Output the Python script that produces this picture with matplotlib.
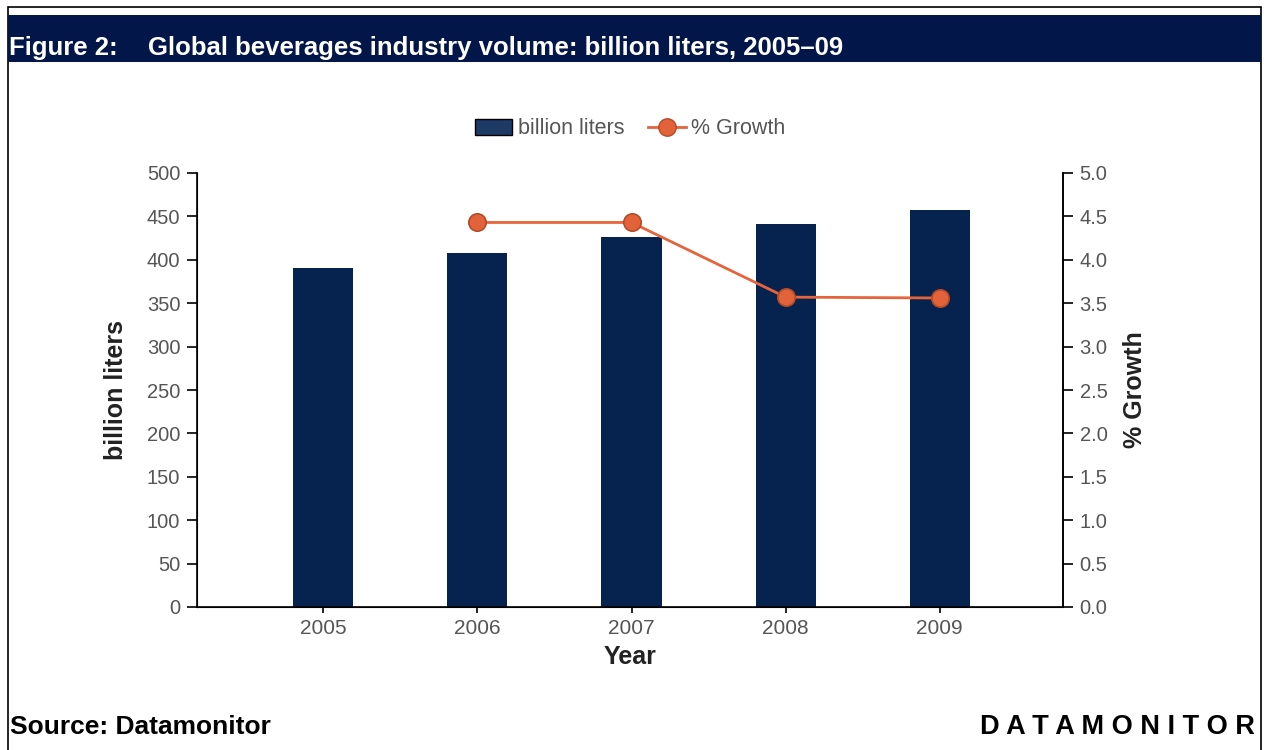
import matplotlib
matplotlib.use("Agg")
import matplotlib.pyplot as plt
from matplotlib.lines import Line2D
from matplotlib.patches import Rectangle, Patch

plt.rcParams['font.family'] = ['Liberation Sans', 'DejaVu Sans']

years = ['2005', '2006', '2007', '2008', '2009']
volume = [391.0, 408.3, 426.4, 441.6, 457.3]   # billion liters
growth_years = ['2006', '2007', '2008', '2009']
growth = [4.43, 4.43, 3.57, 3.56]              # % growth

navy = '#06234f'
orange = '#e6643c'
tick_grey = '#555555'
label_col = '#222222'

W, H = 1264, 750
fig = plt.figure(figsize=(W / 100, H / 100), dpi=100)

# frame and title band
fig.add_artist(Rectangle((8 / W, -0.01), 1253 / W, 1 - 7 / H + 0.01,
                         transform=fig.transFigure, fill=False, lw=1.2, ec='black'))
fig.add_artist(Rectangle((8 / W, 1 - 62 / H), 1253 / W, 47 / H,
                         transform=fig.transFigure, color='#02164a', lw=0))
fig.text(9 / W, 1 - 48 / H, 'Figure 2:', color='white', fontsize=18.5,
         fontweight='bold', va='center', ha='left')
fig.text(148 / W, 1 - 48 / H, 'Global beverages industry volume: billion liters, 2005\u201309',
         color='white', fontsize=18.5, fontweight='bold', va='center', ha='left')

ax = fig.add_axes([197 / W, 1 - 607 / H, 866 / W, 434 / H])
x = list(range(len(years)))
ax.bar(x, volume, width=0.39, color=navy, zorder=2)
ax.set_xlim(-0.82, 4.8)
ax.set_ylim(0, 500)
ax.set_yticks(range(0, 501, 50))
ax.set_xticks(x)
ax.set_xticklabels(years)
ax.spines['top'].set_visible(False)
for s in ['left', 'bottom', 'right']:
    ax.spines[s].set_linewidth(1.2)
ax.tick_params(axis='y', direction='out', length=7, width=1.2, labelsize=14.5,
               labelcolor=tick_grey, pad=5)
ax.tick_params(axis='x', direction='out', length=4, width=1.2, labelsize=15,
               labelcolor=tick_grey, pad=5)
ax.set_ylabel('billion liters', fontsize=18, fontweight='bold', color=label_col)
ax.yaxis.set_label_coords((128 - 197) / 866, 0.5)
ax.set_xlabel('Year', fontsize=18, fontweight='bold', color=label_col)
ax.xaxis.set_label_coords(0.5, (607 - 645) / 434)

ax2 = ax.twinx()
gx = [years.index(y) for y in growth_years]
ax2.plot(gx, growth, color=orange, lw=2, marker='o', markersize=12.5,
         markerfacecolor='#e2633a', markeredgecolor='#b44a26', markeredgewidth=1.2, zorder=3)
ax2.set_ylim(0, 5)
ax2.set_yticks([i * 0.5 for i in range(11)])
ax2.set_yticklabels([f'{i * 0.5:.1f}' for i in range(11)])
ax2.spines['top'].set_visible(False)
ax2.spines['right'].set_linewidth(1.2)
ax2.tick_params(axis='y', direction='out', length=7, width=1.2, labelsize=14.5,
                labelcolor=tick_grey, pad=5)
ax2.set_ylabel('% Growth', fontsize=18, fontweight='bold', color=label_col)
ax2.yaxis.set_label_coords((1123 - 197) / 866, 0.5)

handles = [Patch(facecolor='#1d3a66', edgecolor='black', lw=1),
           Line2D([], [], color=orange, lw=2, marker='o', markersize=12.5,
                  markerfacecolor='#e2633a', markeredgecolor='#b44a26')]
fig.legend(handles, ['billion liters', '% Growth'], loc='center',
           bbox_to_anchor=(630 / W, 1 - 129 / H), ncol=2, frameon=False,
           fontsize=15.5, handlelength=1.75, handletextpad=0.25, columnspacing=1.1,
           labelcolor=tick_grey)

fig.text(10 / W, 1 - 727 / H, 'Source: Datamonitor', fontsize=19,
         fontweight='bold', va='center', ha='left')
fig.text(1255 / W, 1 - 727 / H, 'D A T A M O N I T O R', fontsize=19.5,
         fontweight='bold', va='center', ha='right')

fig.savefig('out.png', dpi=100)
